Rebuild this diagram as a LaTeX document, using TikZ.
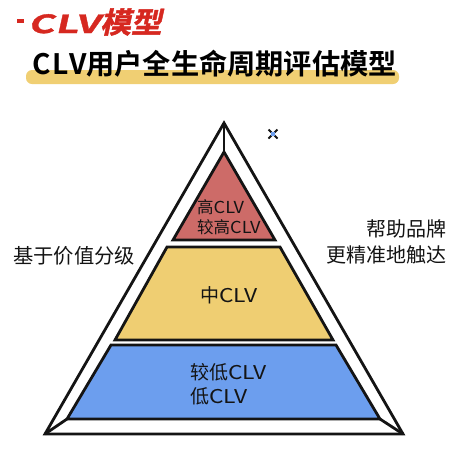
\documentclass[tikz,border=0pt]{standalone}
\usepackage{fontspec}
\usepackage{xcolor}
\usepackage{tikz}
\usetikzlibrary{calc}
\setmainfont{Noto Sans CJK SC}
\newfontfamily\headfont[FakeSlant=0.22,FakeBold=1.5,FakeStretch=1.06]{Noto Sans CJK SC Bold}
\newfontfamily\headlatin[FakeSlant=0.22,FakeBold=1.5,FakeStretch=1.6,LetterSpace=3]{Noto Sans CJK SC Bold}
\newfontfamily\titlefont{Noto Sans CJK SC Bold}
\newfontfamily\titlelatin[LetterSpace=8]{Noto Sans CJK SC Bold}
\newfontfamily\clvwide[FakeStretch=1.2]{Noto Sans CJK SC}
\newfontfamily\clvnarrow[FakeStretch=1.1]{Noto Sans CJK SC}
\definecolor{headred}{RGB}{214,40,32}
\definecolor{baryellow}{RGB}{240,207,115}
\definecolor{topred}{RGB}{205,107,104}
\definecolor{midyellow}{RGB}{239,206,114}
\definecolor{lowblue}{RGB}{108,158,238}
\definecolor{inkblack}{RGB}{20,20,20}
\tikzset{
    layer/.style={
        draw=inkblack,
        line width=2.8pt,
        line join=miter
    },
    frameline/.style={
        draw=inkblack,
        line width=2.8pt,
        line join=miter
    },
    layertext/.style={
        anchor=west,
        inner sep=0pt,
        text=inkblack,
        font=\fontsize{16.5}{16.5}\selectfont
    },
    bigtext/.style={
        anchor=west,
        inner sep=0pt,
        text=inkblack,
        font=\fontsize{19}{19}\selectfont
    },
    sidetext/.style={
        inner sep=0pt,
        text=inkblack,
        font=\fontsize{20}{20}\selectfont
    }
}

\begin{document}
\begin{tikzpicture}[x=1pt,y=-1pt]
\useasboundingbox (0,0) rectangle (468,448);

% Heading
\fill[headred] (17,19) rectangle (24,23);
\node[anchor=west, inner sep=0pt, text=headred, font=\fontsize{25}{25}\selectfont] (head) at (28,22) {{\headlatin CLV}{\fontsize{29}{29}\headfont 模型}};

% Title
\fill[baryellow, rounded corners=6pt] (26,70) rectangle (399,84);
\node[anchor=west, inner sep=0pt, text=black, font=\fontsize{28.2}{28.2}\titlefont] (title) at (32,64) {{\titlelatin CLV}用户全生命周期评估模型};

% Outer triangle
\coordinate (apex) at (224,123);
\coordinate (baseL) at (45,434);
\coordinate (baseR) at (403,434);
\draw[frameline] (apex) -- (baseR) -- (baseL) -- cycle;

% Top layer
\coordinate (topA) at (224,152);
\coordinate (topL) at (173,240);
\coordinate (topR) at (275,240);
\draw[layer, fill=topred] (topA) -- (topR) -- (topL) -- cycle;

% Middle layer
\coordinate (midTL) at (167,247);
\coordinate (midTR) at (280,247);
\coordinate (midBR) at (333,340);
\coordinate (midBL) at (115,340);
\draw[layer, fill=midyellow] (midTL) -- (midTR) -- (midBR) -- (midBL) -- cycle;

% Bottom layer
\coordinate (lowTL) at (111,345);
\coordinate (lowTR) at (336,345);
\coordinate (lowBR) at (380,419);
\coordinate (lowBL) at (67,419);
\draw[layer, fill=lowblue] (lowTL) -- (lowTR) -- (lowBR) -- (lowBL) -- cycle;

% Corner lines
\draw[frameline] (apex) -- (topA);
\draw[frameline] (baseL) -- (lowBL);
\draw[frameline] (baseR) -- (lowBR);

% Layer labels
\node[layertext] (high) at (197,207) {高{\clvnarrow CLV}};
\node[layertext] (higher) at (197,227) {较高{\clvnarrow CLV}};
\node[bigtext] (mid) at (200,295) {中{\clvwide CLV}};
\node[bigtext] (lower) at (190,372) {较低{\clvwide CLV}};
\node[bigtext] (low) at (190,396) {低{\clvwide CLV}};

% Side labels
\node[sidetext, anchor=west, font=\fontsize{20.3}{20.3}\selectfont] (value) at (13,256) {基于价值分级};
\node[sidetext, anchor=east] (brand) at (447,229) {帮助品牌};
\node[sidetext, anchor=east] (reach) at (447,255) {更精准地触达};

% Marker
\draw[inkblack, line width=2pt] (268.5,129.5) -- (277.5,138.5) (277.5,129.5) -- (268.5,138.5);
\fill[lowblue] (271,132) rectangle (275,136);
\end{tikzpicture}
\end{document}
